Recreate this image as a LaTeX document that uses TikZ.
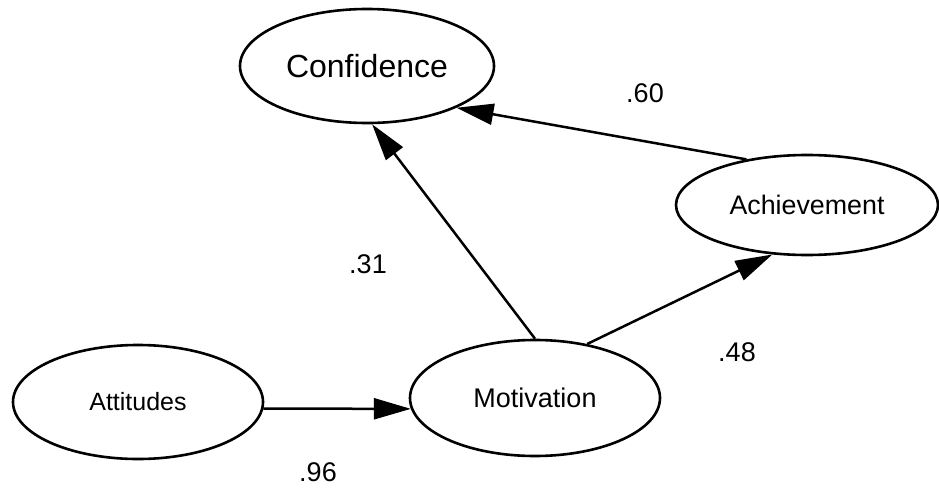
\documentclass[tikz,border=0pt]{standalone}
\usepackage{fontspec}
\setmainfont{Liberation Sans}
\usetikzlibrary{arrows.meta,shapes.geometric}

\tikzset{
  latent/.style={draw=black, line width=2.6pt, ellipse, inner sep=0pt, fill=white},
  path arrow/.style={line width=2.5pt, -{Triangle[length=37pt,width=21pt]}},
  coef/.style={font=\fontsize{27}{30}\selectfont}
}

\begin{document}
\begin{tikzpicture}[x=1pt,y=-1pt]
  \useasboundingbox (0,0) rectangle (939,489);

  % latent variables
  \node[latent, minimum width=254pt, minimum height=114pt, font=\fontsize{32}{36}\selectfont] (conf) at (367,66) {Confidence};
  \node[latent, minimum width=262pt, minimum height=100pt, font=\fontsize{26.8}{30}\selectfont] (ach) at (807,205) {Achievement};
  \node[latent, minimum width=250pt, minimum height=114pt, font=\fontsize{25}{28}\selectfont] (att) at (138,402) {Attitudes};
  \node[latent, minimum width=250pt, minimum height=116pt, font=\fontsize{27}{30}\selectfont] (mot) at (535,398) {Motivation};

  % structural paths
  \draw[path arrow] (att.-3) -- (mot.185);
  \draw[path arrow] (mot.90) -- (conf.-85);
  \draw[path arrow] (mot.46) -- (ach.235);
  \draw[path arrow] (ach.143) -- (conf.-25);

  % path coefficients
  \node[coef] (c60) at (645,93) {.60};
  \node[coef] (c31) at (368,264) {.31};
  \node[coef] (c48) at (737,352) {.48};
  \node[coef] (c96) at (318,472) {.96};
\end{tikzpicture}
\end{document}
